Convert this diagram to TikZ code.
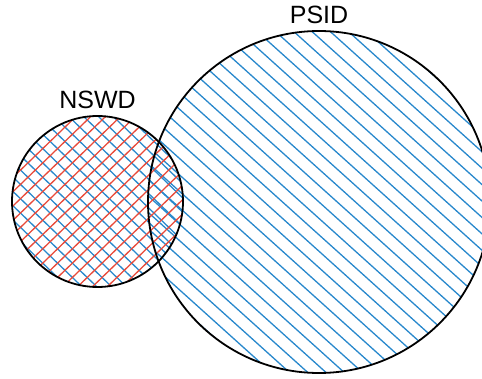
\documentclass[tikz,border=0pt]{standalone}
\usepackage{fontspec}
\setmainfont{Liberation Sans}
\usetikzlibrary{positioning,backgrounds}
\definecolor{hatchblue}{RGB}{40,136,204}
\definecolor{hatchred}{RGB}{232,74,58}
\tikzset{
	setcircle/.style={circle, draw=black, line width=1.8pt, inner sep=0pt, outer sep=0pt},
	setname/.style={inner sep=0pt, font=\fontsize{25}{30}\selectfont},
	hatchline/.style={line width=1.3pt}
}
\begin{document}
\begin{tikzpicture}[x=1pt,y=1pt]
			\useasboundingbox (0,0) rectangle (482,378);
			%%%%%%%%%%%%%%%%%%%%%%%%%%%%%%%%
			\node[setcircle, minimum size=342pt] (psid) at (319,176) {};
			\node[setcircle, minimum size=171pt] (nswd) at (97.5,176.5) {};
			\node[setname, above=7pt of psid] (psidname) {PSID};
			\node[setname, above=7pt of nswd] (nswdname) {NSWD};
			%%%%%%%%%%%%%%%%%%%%%%%%%%%%%
			\begin{scope}[on background layer]
				\begin{scope}
					\clip (psid.center) circle (171);
					\begin{scope}[shift={(psid.center)}, rotate=-42]
						\foreach \k in {-14,...,14}
							\draw[hatchline, hatchblue] (-180,\k*12.2)--(180,\k*12.2);
					\end{scope}
				\end{scope}
				%%%%%%%%%%%%%%%%%%%%%%%%%%%%%
				\begin{scope}
					\clip (nswd.center) circle (85.5);
					\begin{scope}[shift={(nswd.center)}, rotate=-44]
						\foreach \k in {-9,...,9}
							\draw[hatchline, hatchblue] (-90,\k*10.3)--(90,\k*10.3);
					\end{scope}
					\begin{scope}[shift={(nswd.center)}, rotate=44]
						\foreach \k in {-9,...,9}
							\draw[hatchline, hatchred] (-90,\k*10.3+4)--(90,\k*10.3+4);
					\end{scope}
				\end{scope}
			\end{scope}
\end{tikzpicture}
\end{document}
